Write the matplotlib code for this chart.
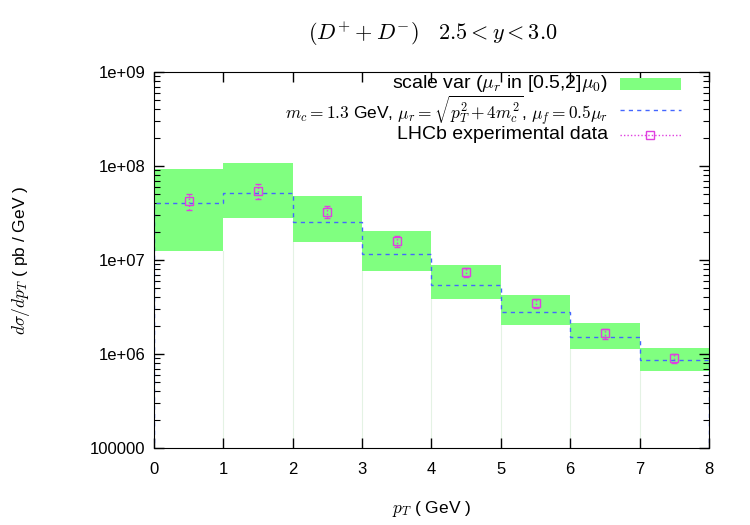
import numpy as np
import matplotlib.pyplot as plt
from matplotlib.patches import Rectangle
from matplotlib.lines import Line2D

plt.rcParams["font.family"] = ["Liberation Sans", "DejaVu Sans"]
plt.rcParams["mathtext.fontset"] = "cm"

# bins in pT (GeV)
bin_edges = [0, 1, 2, 3, 4, 5, 6, 7, 8]

# scale variation band
band_high = [9.3e7, 1.07e8, 4.77e7, 2.02e7, 8.85e6, 4.2e6, 2.14e6, 1.16e6]
band_low = [1.25e7, 2.82e7, 1.54e7, 7.7e6, 3.85e6, 2.04e6, 1.13e6, 6.6e5]

# central prediction
central = [4.0e7, 5.13e7, 2.52e7, 1.15e7, 5.42e6, 2.78e6, 1.51e6, 8.6e5]

# LHCb data
data_x = [0.5, 1.5, 2.5, 3.5, 4.5, 5.5, 6.5, 7.5]
data_y = [4.2e7, 5.46e7, 3.27e7, 1.59e7, 7.4e6, 3.46e6, 1.66e6, 9.0e5]
data_err = [0.8e7, 1.0e7, 0.5e7, 0.2e7, 0.8e6, 0.4e6, 0.2e6, 0.9e5]

green = "#80ff80"
blue = "#4466ff"
magenta = "#e040e0"

fig = plt.figure(figsize=(7.5, 5.25), dpi=100)
ax = fig.add_axes([0.2053, 0.1467, 0.74, 0.7162])

left = np.array(bin_edges[:-1])
width = np.diff(bin_edges)
ax.bar(left, np.array(band_high) - np.array(band_low), bottom=band_low,
       width=width, align="edge", color=green, edgecolor="none", zorder=1)

# faint box edges below the band
for i in range(1, len(bin_edges) - 1):
    ax.plot([bin_edges[i], bin_edges[i]], [1e5, min(band_low[i - 1], band_low[i])],
            color="#e4f2e4", lw=0.8, zorder=0.5)

ax.stairs(central, bin_edges, color=blue, lw=1.0, linestyle=(0, (3, 3)), zorder=2)

eb = ax.errorbar(data_x, data_y, yerr=data_err, fmt="s", ms=6, mfc="none",
                 mec=magenta, mew=1.0, ecolor=magenta, elinewidth=1.0,
                 capsize=2, capthick=0.8, linestyle="none", zorder=3)
eb[2][0].set_linestyle((0, (1, 1.5)))

ax.set_yscale("log")
ax.set_xlim(0, 8)
ax.set_ylim(1e5, 1e9)
ax.set_xticks(range(0, 9))
ax.set_yticks([1e5, 1e6, 1e7, 1e8, 1e9])
ax.set_yticklabels(["100000", "1e+06", "1e+07", "1e+08", "1e+09"])
ax.tick_params(which="both", direction="in", top=True, right=True, labelsize=12)
ax.tick_params(which="major", length=7, width=1)
ax.tick_params(which="minor", length=4, width=0.8)
ax.tick_params(axis="x", which="minor", bottom=False, top=False)
ax.tick_params(axis="x", pad=10)
ax.tick_params(axis="y", pad=6)

ax.set_xlabel(r"$p_T$ ( GeV )", fontsize=12.5, labelpad=16)
ax.set_ylabel(r"$d\sigma/dp_T$ ( pb / GeV )", fontsize=12.5, labelpad=42)
fig.text(0.577, 0.936, r"$(D^{+} + D^{-})\quad 2.5 < y < 3.0$", ha="center",
         va="center", fontsize=16)

# gnuplot-style key: right-justified text, sample on the right
labels = [r"scale var ($\mu_r$ in [0.5,2]$\mu_0$)",
          r"$m_c = 1.3$ GeV, $\mu_r = \sqrt{p_T^2 + 4m_c^2}$, $\mu_f = 0.5\mu_r$",
          "LHCb experimental data"]
label_sizes = [14, 12.5, 14]
rows_y = [1 - 12 / 376, 1 - 38 / 376, 1 - 63 / 376]
tx = (608 - 154) / 555
sx0, sx1 = (620 - 154) / 555, (681 - 154) / 555
for lab, yy, fs in zip(labels, rows_y, label_sizes):
    ax.text(tx, yy, lab, transform=ax.transAxes, ha="right", va="center",
            fontsize=fs, zorder=5)
ax.add_patch(Rectangle((sx0, rows_y[0] - 0.016), sx1 - sx0, 0.032,
                       transform=ax.transAxes, color=green, lw=0, zorder=5))
ax.add_line(Line2D([sx0, sx1], [rows_y[1]] * 2, transform=ax.transAxes,
                   color=blue, lw=1.0, linestyle=(0, (3, 3)), zorder=5))
ax.add_line(Line2D([sx0, sx1], [rows_y[2]] * 2, transform=ax.transAxes,
                   color=magenta, lw=1.0, linestyle=(0, (1, 1.5)), zorder=5))
ax.add_line(Line2D([(sx0 + sx1) / 2], [rows_y[2]], transform=ax.transAxes,
                   marker="s", ms=6, mfc="none", mec=magenta, mew=1.0,
                   linestyle="none", zorder=6))

fig.savefig("out.png", dpi=100)
